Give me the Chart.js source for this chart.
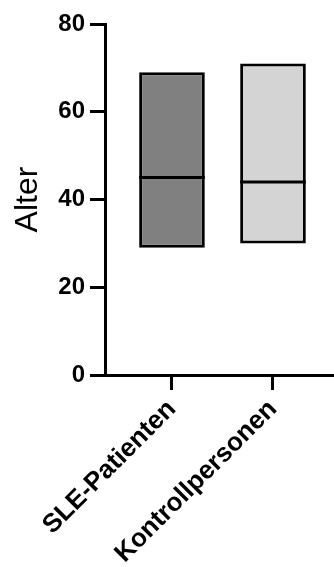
<!DOCTYPE html>
<html lang="de">
  <head>
    <meta charset="UTF-8" />
    <title>Alter</title>
    <script src="https://cdn.jsdelivr.net/npm/chart.js"></script>
    <style>
      body { margin: 0; background: #fff; }
      .chart_box { width: 334px; height: 567px; }
    </style>
  </head>
  <body>
    <div class="chart_box">
      <canvas id="chart-area"></canvas>
    </div>

    <script>
      // Werte
      const categories = ["SLE-Patienten", "Kontrollpersonen"];
      const xPositions = [1, 2];
      const minValues = [29, 30];
      const maxValues = [69, 71];
      const medianValues = [45, 44];
      const yTicks = [0, 20, 40, 60, 80];
      const barColors = ["#808080", "#d4d4d4"];

      const fontFamily = "Arial, 'Liberation Sans', sans-serif";

      // Median als Strich quer über den Balken
      const medianLines = {
        id: "medianLines",
        afterDatasetsDraw(chart) {
          const meta = chart.getDatasetMeta(0);
          const yScale = chart.scales.y;
          const ctx = chart.ctx;
          ctx.save();
          ctx.strokeStyle = "#000";
          ctx.lineWidth = 3;
          meta.data.forEach((bar, i) => {
            const py = yScale.getPixelForValue(medianValues[i]);
            ctx.beginPath();
            ctx.moveTo(bar.x - bar.width / 2, py);
            ctx.lineTo(bar.x + bar.width / 2, py);
            ctx.stroke();
          });
          ctx.restore();
        },
      };

      const ctx = document.getElementById("chart-area").getContext("2d");

      new Chart(ctx, {
        type: "bar",
        data: {
          datasets: [
            {
              data: xPositions.map((x, i) => ({ x: x, y: [minValues[i], maxValues[i]] })),
              backgroundColor: barColors,
              borderColor: "#000",
              borderWidth: 3,
              borderSkipped: false,
              barPercentage: 0.65,
              categoryPercentage: 1,
            },
          ],
        },
        options: {
          responsive: true,
          maintainAspectRatio: false,
          animation: false,
          layout: { padding: { top: 24, left: 0, right: 0, bottom: 0 } },
          plugins: {
            legend: { display: false },
            tooltip: { enabled: false },
          },
          scales: {
            x: {
              type: "linear",
              min: 0.337,
              max: 2.604,
              offset: false,
              afterBuildTicks: (scale) => {
                scale.ticks = xPositions.map((v) => ({ value: v }));
              },
              afterFit: (scale) => {
                scale.height = 192;
              },
              ticks: {
                autoSkip: false,
                minRotation: 45,
                maxRotation: 45,
                padding: 4,
                color: "#000",
                font: { family: fontFamily, size: 26, weight: "bold" },
                callback: (value) => categories[xPositions.indexOf(value)],
              },
              grid: {
                offset: false,
                drawOnChartArea: false,
                tickLength: 15,
                tickWidth: 3,
                tickColor: "#000",
              },
              border: { color: "#000", width: 3 },
            },
            y: {
              min: yTicks[0],
              max: yTicks[yTicks.length - 1],
              afterBuildTicks: (scale) => {
                scale.ticks = yTicks.map((v) => ({ value: v }));
              },
              afterFit: (scale) => {
                scale.width = 105;
              },
              ticks: {
                padding: 5,
                color: "#000",
                font: { family: fontFamily, size: 24, weight: "bold" },
              },
              grid: {
                drawOnChartArea: false,
                tickLength: 15,
                tickWidth: 3,
                tickColor: "#000",
              },
              border: { color: "#000", width: 3 },
              title: {
                display: true,
                text: "Alter",
                color: "#000",
                padding: { top: 9, bottom: 0 },
                font: { family: fontFamily, size: 32, weight: "normal" },
              },
            },
          },
        },
        plugins: [medianLines],
      });
    </script>
  </body>
</html>
